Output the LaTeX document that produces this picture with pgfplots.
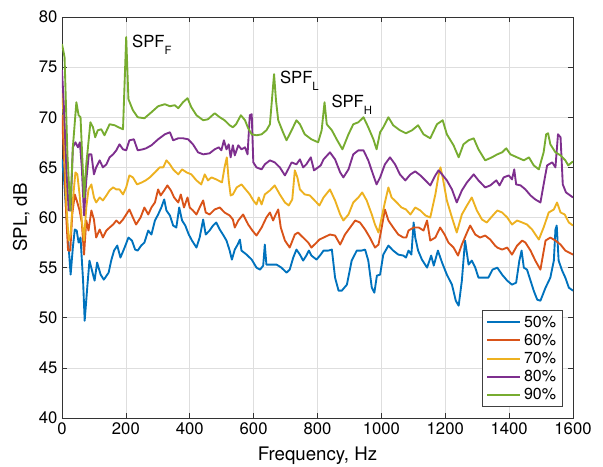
\documentclass[border=0pt]{standalone}
\usepackage{fontspec}
\setmainfont{TeX Gyre Heros}
\usepackage{pgfplots}
\pgfplotsset{compat=1.18}
\definecolor{c1}{rgb}{0,0.447,0.741}
\definecolor{c2}{rgb}{0.850,0.325,0.098}
\definecolor{c3}{rgb}{0.929,0.694,0.125}
\definecolor{c4}{rgb}{0.494,0.184,0.556}
\definecolor{c5}{rgb}{0.466,0.674,0.188}
\newcommand\sub[1]{\raisebox{-5.5pt}{\fontsize{8.5}{10}\selectfont #1}}
\begin{document}
\begin{tikzpicture}
\begin{axis}[
  scale only axis, width=383.25pt, height=300.75pt,
  xmin=0, xmax=1600, ymin=40, ymax=80,
  xtick={0,200,...,1600}, ytick={40,45,...,80},
  grid=major, grid style={black!13, line width=0.5pt},
  axis line style={black!80, line width=0.5pt},
  tick style={black!80, line width=0.5pt},
  tick align=inside, major tick length=4pt,
  xlabel={Frequency, Hz}, ylabel={SPL, dB},
  label style={font=\fontsize{14}{16}\selectfont},
  xlabel style={yshift=-2pt},
  tick label style={font=\fontsize{12.5}{14}\selectfont},
  /pgf/number format/assume math mode=true,
  /pgf/number format/1000 sep={},
  legend style={at={(1,0)}, anchor=south east, xshift=-7.5pt, yshift=8.4pt,
    font=\fontsize{12}{14}\selectfont, draw=black!75,
    row sep=-0.5pt, inner xsep=3pt, inner ysep=2pt},
  legend cell align=left,
  legend image code/.code={\draw[#1,line width=1.5pt] (0pt,0pt) -- (25pt,0pt);},
  every axis plot/.append style={line width=1.4pt, line join=round},
]
\addplot[c1] coordinates {(0,65.8)(6,64)(14,60.3)(21,57)(27,54.3)(34,57)(40,58.8)(46,58.7)(52,57.5)(58,58)(66,53.7)(71,49.7)(79,53)(86,55.7)(94,54.7)(102,53.7)(110,55.5)(121,54.3)(131,53.8)(146,54.5)(154,55.7)(163,56.7)(173,57.2)(183,56)(196,57)(208,58)(219,57.7)(229,56.8)(237,56.7)(248,57.2)(258,57.5)(270,58.7)(280,58.3)(291,59.7)(301,60.3)(311,61)(320,61.8)(327,60.7)(338,60.2)(348,59.2)(358,59)(367,61)(376,59.7)(386,59.2)(397,58.3)(407,57.7)(421,57)(431,58)(442,59.8)(450,58.3)(462,58.7)(473,59.2)(483,59.5)(494,58.8)(504,58.3)(515,57.7)(525,56.7)(532,55.8)(541,56.8)(550,57.3)(557,57.8)(562,56.7)(578,56.3)(594,55.8)(609,55)(620,54.8)(630,55.2)(635,57.3)(640,55.3)(656,55.3)(672,55.3)(687,55)(703,54.5)(713,54.8)(724,56)(734,56.8)(745,56.3)(755,55.7)(765,56.2)(773,56.7)(781,56.2)(797,55.8)(810,56.3)(819,56.7)(834,56.7)(845,56.8)(855,54)(866,52.7)(876,52.7)(892,53.3)(907,55.7)(923,56.7)(938,56.7)(949,56.8)(959,55.7)(970,53)(978,52.5)(986,54.2)(996,54.3)(1006,56.3)(1022,57.2)(1037,56.7)(1053,56.3)(1069,56.2)(1077,56)(1085,56.7)(1094,56.3)(1101,59.5)(1106,58)(1115,56.7)(1127,55.8)(1143,55)(1156,56.2)(1164,55.2)(1177,56.7)(1190,55.5)(1205,54.3)(1221,53.3)(1233,51.7)(1242,51.2)(1252,53.7)(1262,57.7)(1273,55.3)(1283,55.7)(1294,55)(1304,54)(1320,54)(1335,54)(1348,54.8)(1363,55)(1378,54.3)(1394,53.7)(1409,53.3)(1422,53.5)(1432,55.7)(1439,56.7)(1446,55)(1456,54.8)(1467,53.7)(1477,52.7)(1488,51.8)(1498,51.7)(1514,53)(1529,54)(1540,55.7)(1545,58.8)(1549,59.2)(1555,55.7)(1566,54.7)(1576,54)(1587,53)(1600,52.7)};
\addlegendentry{50\%}
\addplot[c2] coordinates {(0,70.2)(6,66.3)(14,59.7)(19,56.7)(26,56.7)(32,60.3)(40,62.3)(48,61.5)(55,60.7)(62,59.5)(69,56.3)(76,59.7)(83,58.7)(92,60.7)(100,59.8)(107,58)(118,58.8)(128,58)(139,58.7)(149,59)(160,59.3)(170,59.7)(180,59.4)(191,59.8)(201,60.3)(211,60.8)(222,60)(232,59.3)(246,60)(258,61)(270,60.3)(280,61)(291,61.5)(301,62.8)(309,62.2)(320,62.7)(330,63.2)(341,62.7)(351,62)(364,61.5)(372,62.3)(382,61)(393,62)(400,61)(410,60.7)(421,60.3)(431,61)(442,61.7)(450,60.5)(462,60.3)(478,60.8)(494,61)(509,60.5)(525,60.2)(535,59.8)(541,59)(552,59.7)(567,60.3)(583,59.3)(596,58.7)(609,58.2)(625,59)(640,60)(651,60.5)(661,59.7)(669,60.3)(677,60.8)(685,59)(698,57.7)(713,57)(729,58.3)(739,58.5)(755,58)(771,57.5)(781,57)(797,57.5)(806,57.8)(819,58)(839,58.3)(855,58.2)(871,57.3)(886,58.3)(902,59)(918,59.7)(933,59.5)(949,58.8)(964,58)(980,57)(991,57.3)(1001,59)(1011,60.8)(1022,59.7)(1037,59)(1053,58.3)(1069,58)(1078,58)(1085,58.7)(1101,59)(1117,59)(1132,58.7)(1143,59.7)(1153,57.7)(1169,58)(1184,59)(1198,58.3)(1210,57.5)(1226,57)(1240,56.2)(1252,57.3)(1268,58.5)(1278,59.2)(1294,58.3)(1309,58)(1325,58.2)(1341,57.8)(1356,57.2)(1363,57)(1378,56.8)(1394,57)(1409,56.3)(1425,57.2)(1441,57.7)(1451,57.5)(1467,56.7)(1482,55.7)(1498,54.8)(1514,57.7)(1529,58)(1545,57.7)(1561,57.3)(1576,56.7)(1600,56.3)};
\addlegendentry{60\%}
\addplot[c3] coordinates {(0,72.7)(6,69.7)(14,61)(21,57.7)(27,58.3)(34,61.7)(42,64.5)(48,64.3)(55,62.3)(62,59.7)(69,57.7)(76,61)(83,62.8)(92,63.3)(100,62)(107,61.5)(118,62)(128,61.7)(139,62.2)(149,62.7)(160,63)(170,62.8)(180,62.8)(191,62.3)(201,63)(211,64.2)(222,64)(235,63.3)(250,63.5)(262,63.7)(275,64)(291,64.5)(306,65)(317,65)(327,65.7)(338,65.3)(348,64.8)(364,64.3)(376,64.8)(390,64.5)(405,64.3)(421,63.7)(436,63.3)(447,64.3)(457,63.7)(468,64)(483,63.8)(501,63.5)(509,65)(516,66)(522,63.7)(528,62.2)(535,62.3)(547,63)(562,63.3)(575,62.8)(588,62.3)(599,61.7)(609,61.3)(616,62)(625,61.3)(635,62.3)(651,62.7)(666,63.2)(682,62.3)(698,61.5)(710,61.2)(721,61.8)(729,64.7)(737,64)(745,62.8)(760,62.3)(776,62.2)(791,61.7)(806,61.2)(819,62)(839,62.8)(855,61.7)(871,60.3)(881,59.7)(897,60.3)(912,61.5)(928,62)(940,62.5)(954,61.7)(970,60.3)(980,59.3)(991,58.5)(1001,60)(1011,61.5)(1022,63)(1032,62)(1048,61.5)(1063,61)(1077,60.8)(1091,60.3)(1106,61)(1122,60.7)(1138,60.2)(1153,60)(1169,62.3)(1179,64.2)(1185,65)(1192,64)(1205,61.7)(1221,60)(1236,58.5)(1252,60.3)(1268,61.2)(1283,62)(1299,60.7)(1315,59.8)(1330,59.5)(1346,60.1)(1363,60.7)(1378,60.5)(1394,60)(1409,59.3)(1425,59.7)(1441,59.5)(1456,59.3)(1472,58.8)(1493,57.8)(1508,59)(1524,60.5)(1540,60.8)(1550,61.5)(1561,60.5)(1574,60.3)(1587,59.5)(1600,59.2)};
\addlegendentry{70\%}
\addplot[c4] coordinates {(0,74.7)(6,71)(14,64.7)(21,60.7)(27,60.7)(34,67)(42,67.5)(50,67)(56,67.5)(62,65)(69,60.2)(76,63.7)(84,66.3)(92,66.3)(100,64.3)(107,65)(118,65.7)(128,65)(139,65.3)(149,66)(160,66.3)(170,66.7)(180,67.3)(191,66.8)(201,66.7)(211,67.7)(225,67.8)(237,66.7)(253,66.8)(263,66.9)(280,67.2)(301,67.8)(322,68.3)(338,68.5)(348,67.7)(364,67.9)(379,67.9)(395,67.8)(410,67.3)(426,66.5)(442,66.3)(462,66.4)(478,66.8)(491,67)(499,66.7)(507,67.7)(515,66.8)(522,67.3)(528,66)(535,67.2)(541,66.2)(552,67.2)(562,66.8)(573,67)(581,66.3)(588,70.2)(594,70.3)(599,65.5)(609,65)(625,64.8)(635,65.3)(651,65.7)(666,65.5)(682,65)(698,64.2)(708,64.8)(719,65.5)(734,65.3)(745,65.8)(755,65)(765,65.3)(779,66)(789,64.7)(802,65)(810,65.2)(819,65.8)(839,66.5)(855,65.8)(871,64.5)(881,64)(897,64.8)(912,66.3)(928,66.7)(944,66.7)(959,65.7)(975,64.2)(985,63.3)(996,64)(1011,65.3)(1027,66)(1043,65.3)(1058,64.3)(1075,63.7)(1091,64.3)(1106,64.6)(1122,64.2)(1138,63.7)(1153,63.2)(1169,64.2)(1179,64.7)(1190,64.3)(1205,63.7)(1221,62.8)(1236,61.5)(1252,62.7)(1268,63.5)(1289,64.3)(1304,63.7)(1325,63)(1341,63.2)(1352,63.5)(1360,63.7)(1370,63.2)(1383,64)(1399,64.2)(1409,63.8)(1416,64.8)(1422,63.3)(1436,63.2)(1451,62.8)(1467,62.2)(1482,61.8)(1498,61.5)(1512,64)(1519,65.2)(1535,65.5)(1545,65)(1553,68.3)(1561,68)(1568,63.3)(1578,62.5)(1600,62)};
\addlegendentry{80\%}
\addplot[c5] coordinates {(0,77.3)(8,76)(17,66.3)(26,60.7)(34,67)(45,71.5)(52,70.2)(58,70)(69,62)(76,65.3)(89,69.5)(97,69)(104,68)(112,68.7)(123,68.8)(133,68.2)(149,69.3)(165,69.2)(177,69)(191,68.8)(201,78)(208,71.8)(222,70.7)(237,70)(258,69.9)(280,70.5)(301,71.1)(322,71.3)(338,71.1)(353,71.2)(364,70.9)(379,71.5)(393,71.9)(405,71)(421,70.2)(442,69.7)(457,69.8)(478,70.4)(494,70)(509,69.7)(525,69.2)(535,69)(545,69.3)(560,70.2)(573,69.7)(583,68.9)(594,68.3)(609,68.2)(625,68.3)(640,68.7)(651,69.3)(658,72)(664,74.3)(670,71.7)(677,69.7)(692,68.5)(703,67.7)(719,68.7)(734,69.7)(745,69.3)(760,68.3)(781,67.8)(802,67.5)(813,68.7)(822,71.5)(829,69.3)(845,68.7)(860,67.8)(878,66.8)(897,68.3)(912,69.3)(928,69.5)(944,70)(959,69)(975,67.8)(985,66.8)(996,68.5)(1006,69)(1022,70)(1037,69.2)(1058,68.7)(1077,68.4)(1096,68.7)(1115,69.2)(1132,68.3)(1153,67.9)(1174,69.3)(1192,69.7)(1205,68.3)(1226,67.2)(1242,66)(1257,67.3)(1273,67.7)(1289,67.9)(1304,66.8)(1325,65.7)(1346,66)(1363,66.3)(1378,66.5)(1391,66.9)(1404,66.3)(1425,66)(1446,65.7)(1462,66)(1477,65.2)(1493,64.8)(1508,66.5)(1516,68.3)(1522,68.4)(1529,67.3)(1545,66.5)(1561,66.2)(1576,65.7)(1585,65.2)(1600,65.6)};
\addlegendentry{90\%}
\node[anchor=base west, inner sep=0pt, font=\fontsize{12.5}{14}\selectfont] at (axis cs:219,77.0) {SPF\sub{F}};
\node[anchor=base west, inner sep=0pt, font=\fontsize{12.5}{14}\selectfont] at (axis cs:682,73.4) {SPF\sub{L}};
\node[anchor=base west, inner sep=0pt, font=\fontsize{12.5}{14}\selectfont] at (axis cs:843,71.0) {SPF\sub{H}};
\coordinate (sw) at (rel axis cs:0,0);
\coordinate (ne) at (rel axis cs:1,1);
\end{axis}
\pgfresetboundingbox
\path ([shift={(-46.5pt,-36.75pt)}]sw) rectangle ([shift={(22.5pt,12.75pt)}]ne);
\end{tikzpicture}
\end{document}
